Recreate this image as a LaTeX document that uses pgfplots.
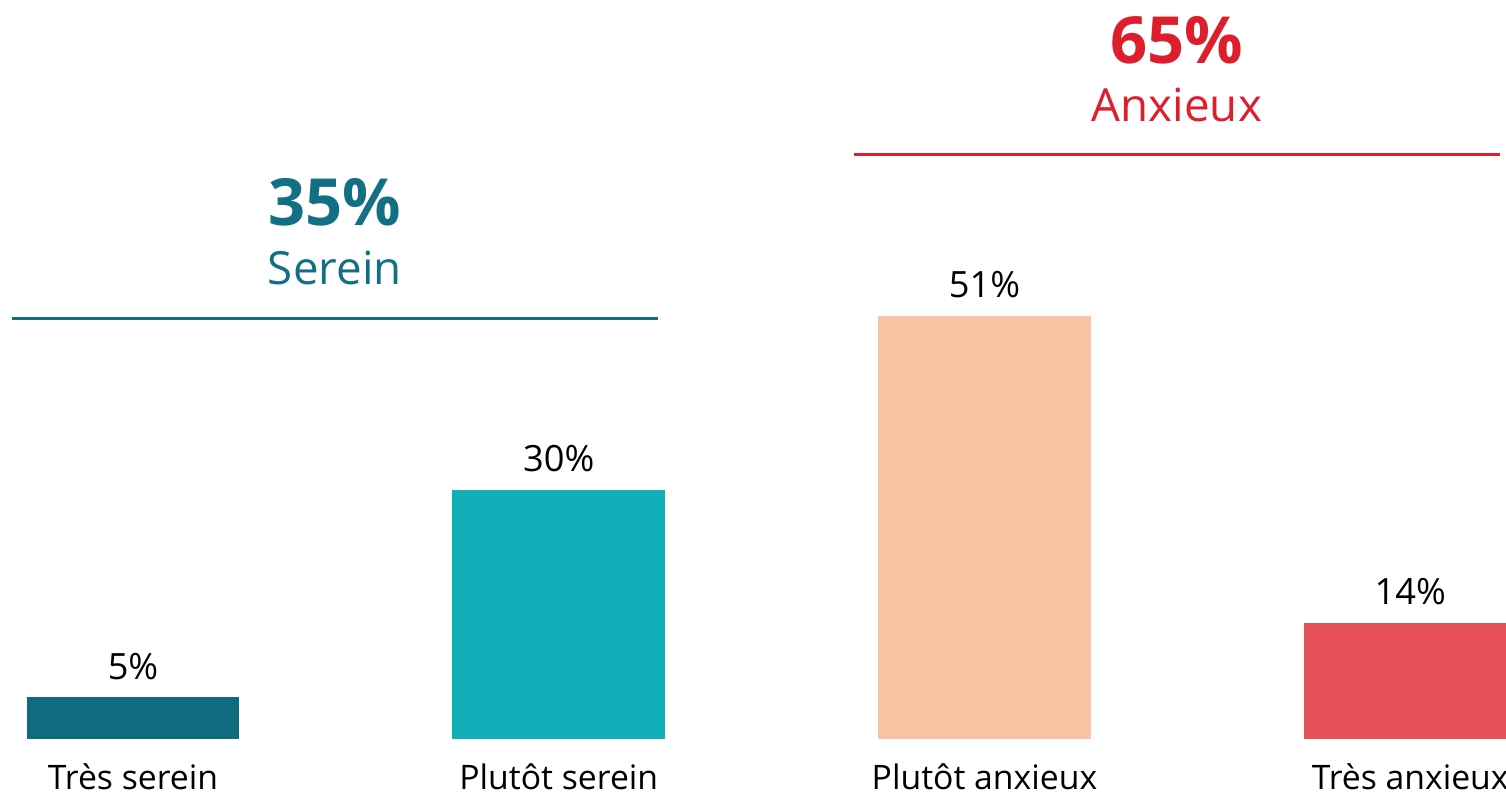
\documentclass[border=0pt]{standalone}
\usepackage{pgfplots}
\pgfplotsset{compat=1.18}
\usepackage{fontspec}
\setmainfont{Open Sans}
\definecolor{darkteal}{HTML}{0F6B80}
\definecolor{teal}{HTML}{13AFB8}
\definecolor{peach}{HTML}{F7C4A4}
\definecolor{coral}{HTML}{E55157}
\definecolor{hdred}{HTML}{DD1F2D}
\definecolor{hdteal}{HTML}{137084}

\begin{document}
\begin{tikzpicture}
\begin{axis}[
scale only axis,width=15.06cm,height=7.39cm,
xmin=-0.3125,xmax=3.225,ymin=0,ymax=89,
axis line style={draw=none},tick style={draw=none},
ytick=\empty,xtick={0,1,2,3},
xticklabels={Très serein,Plutôt serein,Plutôt anxieux,Très anxieux},
xticklabel style={font=\fontsize{9.6}{12}\selectfont,anchor=base,yshift=-0.36cm},
ybar,bar width=0.5,bar shift=0pt,
/pgf/number format/assume math mode=true,
nodes near coords={\pgfmathprintnumber{\pgfplotspointmeta}\%},
nodes near coords style={font=\fontsize{10.3}{12}\selectfont,black,anchor=base,yshift=0.18cm},
clip=false,
]
\addplot[fill=darkteal,draw=none] coordinates {(0,5)};
\addplot[fill=teal,draw=none] coordinates {(1,30)};
\addplot[fill=peach,draw=none] coordinates {(2,51)};
\addplot[fill=coral,draw=none] coordinates {(3,14)};
% group headers
\draw[hdteal,line width=0.85pt] (axis cs:-0.284,50.6) -- (axis cs:1.233,50.6);
\node[hdteal,font=\bfseries\fontsize{18.5}{22}\selectfont] at (axis cs:0.474,64.6) {35\%};
\node[hdteal,font=\fontsize{13}{16}\selectfont] at (axis cs:0.474,56.7) {Serein};
\draw[hdred,line width=0.85pt] (axis cs:1.694,70.4) -- (axis cs:3.211,70.4);
\node[hdred,font=\bfseries\fontsize{18.5}{22}\selectfont] at (axis cs:2.452,84.2) {65\%};
\node[hdred,font=\fontsize{13}{16}\selectfont] at (axis cs:2.452,76.4) {Anxieux};
\end{axis}
\pgfresetboundingbox
\path (0,-0.56cm) rectangle (15.06cm,7.39cm);
\end{tikzpicture}
\end{document}
